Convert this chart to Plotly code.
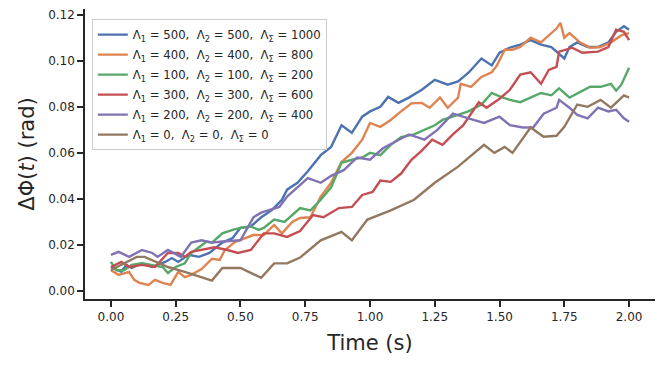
import plotly.graph_objects as go

# ---- data (time in s, phase in rad) ----
t_500 = [0.00, 0.04, 0.06, 0.08, 0.12, 0.16, 0.21, 0.235, 0.26, 0.30, 0.34, 0.38, 0.43, 0.47, 0.50, 0.54, 0.58, 0.62,
         0.66, 0.68, 0.72, 0.76, 0.81, 0.85, 0.89, 0.93, 0.97, 1.00, 1.04, 1.07, 1.11, 1.15, 1.20, 1.25, 1.30, 1.34,
         1.38, 1.43, 1.47, 1.50, 1.54, 1.58, 1.62, 1.66, 1.70, 1.72, 1.75, 1.77, 1.80, 1.84, 1.88, 1.92, 1.95, 1.98, 2.00]
v_500 = [0.0104, 0.0083, 0.0113, 0.0100, 0.0120, 0.0104, 0.0126, 0.0143, 0.0126, 0.0157, 0.0148, 0.0165, 0.0210, 0.0230,
         0.0274, 0.0280, 0.0320, 0.0350, 0.0396, 0.0440, 0.0470, 0.0520, 0.0590, 0.0626, 0.0720, 0.0687, 0.0757, 0.0780,
         0.0800, 0.0843, 0.0817, 0.0840, 0.0874, 0.0917, 0.0896, 0.0910, 0.0948, 0.1010, 0.0980, 0.1035, 0.1057, 0.1070,
         0.1090, 0.1070, 0.1060, 0.1040, 0.1010, 0.1060, 0.1080, 0.1060, 0.1060, 0.1080, 0.1126, 0.1150, 0.1135]

t_400 = [0.00, 0.03, 0.07, 0.09, 0.11, 0.145, 0.17, 0.20, 0.23, 0.26, 0.285, 0.31, 0.35, 0.39, 0.42, 0.44, 0.48, 0.52,
         0.55, 0.59, 0.63, 0.66, 0.70, 0.73, 0.77, 0.81, 0.85, 0.89, 0.93, 0.97, 1.00, 1.04, 1.08, 1.12, 1.16, 1.20,
         1.23, 1.27, 1.30, 1.34, 1.35, 1.39, 1.43, 1.47, 1.49, 1.52, 1.55, 1.58, 1.62, 1.66, 1.70, 1.72, 1.735, 1.75,
         1.77, 1.81, 1.85, 1.89, 1.93, 1.97, 2.00]
v_400 = [0.0090, 0.0070, 0.0083, 0.0048, 0.0035, 0.0026, 0.0048, 0.0035, 0.0026, 0.0083, 0.0060, 0.0070, 0.0095, 0.0140,
         0.0135, 0.0178, 0.0213, 0.0230, 0.0243, 0.0243, 0.0287, 0.0250, 0.0300, 0.0317, 0.0320, 0.0410, 0.0470, 0.0560,
         0.0600, 0.0657, 0.0730, 0.0713, 0.0743, 0.0780, 0.0815, 0.0817, 0.0796, 0.0840, 0.0796, 0.0840, 0.0900, 0.0887,
         0.0930, 0.0950, 0.0980, 0.1048, 0.1048, 0.1060, 0.1100, 0.1080, 0.1120, 0.1140, 0.1165, 0.1100, 0.1120, 0.1080,
         0.1057, 0.1060, 0.1080, 0.1110, 0.1120]

t_100 = [0.00, 0.02, 0.05, 0.08, 0.12, 0.16, 0.20, 0.22, 0.25, 0.285, 0.31, 0.34, 0.37, 0.39, 0.43, 0.47, 0.50, 0.54,
         0.57, 0.59, 0.63, 0.67, 0.71, 0.73, 0.77, 0.81, 0.85, 0.89, 0.93, 0.97, 1.00, 1.04, 1.08, 1.12, 1.17, 1.21,
         1.25, 1.28, 1.32, 1.38, 1.43, 1.47, 1.50, 1.54, 1.58, 1.62, 1.66, 1.70, 1.73, 1.77, 1.81, 1.85, 1.89, 1.93,
         1.95, 1.97, 2.00]
v_100 = [0.0126, 0.0090, 0.0090, 0.0113, 0.0120, 0.0113, 0.0104, 0.0078, 0.0104, 0.0120, 0.0165, 0.0190, 0.0215, 0.0210,
         0.0250, 0.0265, 0.0274, 0.0280, 0.0265, 0.0274, 0.0310, 0.0300, 0.0340, 0.0360, 0.0350, 0.0396, 0.0450, 0.0557,
         0.0570, 0.0580, 0.0600, 0.0590, 0.0635, 0.0668, 0.0680, 0.0700, 0.0720, 0.0743, 0.0757, 0.0780, 0.0810, 0.0860,
         0.0845, 0.0830, 0.0820, 0.0840, 0.0860, 0.0850, 0.0880, 0.0840, 0.0865, 0.0887, 0.0887, 0.0900, 0.0870, 0.0896,
         0.0970]

t_300 = [0.00, 0.04, 0.07, 0.12, 0.17, 0.20, 0.22, 0.26, 0.285, 0.31, 0.35, 0.40, 0.45, 0.49, 0.54, 0.59, 0.63, 0.68,
         0.73, 0.78, 0.82, 0.88, 0.93, 0.97, 1.01, 1.04, 1.08, 1.12, 1.16, 1.20, 1.24, 1.28, 1.32, 1.36, 1.42, 1.45,
         1.50, 1.54, 1.58, 1.62, 1.66, 1.69, 1.72, 1.73, 1.76, 1.78, 1.82, 1.88, 1.92, 1.95, 1.98, 2.00]
v_300 = [0.0104, 0.0126, 0.0104, 0.0113, 0.0104, 0.0143, 0.0165, 0.0165, 0.0148, 0.0170, 0.0178, 0.0190, 0.0178, 0.0165,
         0.0178, 0.0250, 0.0250, 0.0235, 0.0260, 0.0330, 0.0320, 0.0360, 0.0365, 0.0417, 0.0430, 0.0480, 0.0474, 0.0510,
         0.0570, 0.0610, 0.0657, 0.0635, 0.0680, 0.0720, 0.0820, 0.0796, 0.0835, 0.0874, 0.0940, 0.0950, 0.0900, 0.0960,
         0.0974, 0.1040, 0.1050, 0.1057, 0.1035, 0.1040, 0.1060, 0.1135, 0.1126, 0.1090]

t_200 = [0.00, 0.03, 0.07, 0.12, 0.16, 0.18, 0.22, 0.27, 0.31, 0.35, 0.39, 0.43, 0.50, 0.55, 0.58, 0.65, 0.68, 0.70,
         0.76, 0.81, 0.85, 0.90, 0.95, 1.00, 1.05, 1.15, 1.21, 1.26, 1.32, 1.38, 1.44, 1.50, 1.54, 1.59, 1.63, 1.67,
         1.72, 1.73, 1.77, 1.80, 1.84, 1.88, 1.92, 1.95, 1.98, 2.00]
v_200 = [0.0157, 0.0170, 0.0148, 0.0178, 0.0165, 0.0148, 0.0178, 0.0148, 0.0210, 0.0220, 0.0210, 0.0215, 0.0220, 0.0320,
         0.0340, 0.0365, 0.0410, 0.0430, 0.0490, 0.0470, 0.0500, 0.0526, 0.0580, 0.0570, 0.0620, 0.0680, 0.0657, 0.0700,
         0.0770, 0.0750, 0.0730, 0.0757, 0.0720, 0.0710, 0.0710, 0.0770, 0.0796, 0.0830, 0.0796, 0.0765, 0.0750, 0.0796,
         0.0780, 0.0787, 0.0750, 0.0735]

t_0 = [0.00, 0.05, 0.10, 0.13, 0.22, 0.285, 0.39, 0.43, 0.50, 0.58, 0.63, 0.68, 0.73, 0.81, 0.89, 0.93, 0.99, 1.08,
       1.17, 1.25, 1.34, 1.44, 1.48, 1.52, 1.55, 1.62, 1.67, 1.72, 1.75, 1.80, 1.84, 1.89, 1.93, 1.98, 2.00]
v_0 = [0.0091, 0.0120, 0.0148, 0.0148, 0.0104, 0.0083, 0.0045, 0.0100, 0.0100, 0.0057, 0.0120, 0.0120, 0.0145, 0.0220,
       0.0257, 0.0220, 0.0310, 0.0350, 0.0396, 0.0470, 0.0540, 0.0635, 0.0600, 0.0626, 0.0600, 0.0710, 0.0670, 0.0674,
       0.0713, 0.0810, 0.0800, 0.0830, 0.0796, 0.0850, 0.0840]

labels = [
    "Λ<sub>1</sub> = 500,  Λ<sub>2</sub> = 500,  Λ<sub>Σ</sub> = 1000",
    "Λ<sub>1</sub> = 400,  Λ<sub>2</sub> = 400,  Λ<sub>Σ</sub> = 800",
    "Λ<sub>1</sub> = 100,  Λ<sub>2</sub> = 100,  Λ<sub>Σ</sub> = 200",
    "Λ<sub>1</sub> = 300,  Λ<sub>2</sub> = 300,  Λ<sub>Σ</sub> = 600",
    "Λ<sub>1</sub> = 200,  Λ<sub>2</sub> = 200,  Λ<sub>Σ</sub> = 400",
    "Λ<sub>1</sub> = 0,  Λ<sub>2</sub> = 0,  Λ<sub>Σ</sub> = 0",
]
series = [(t_500, v_500), (t_400, v_400), (t_100, v_100), (t_300, v_300), (t_200, v_200), (t_0, v_0)]
colors = ["#4C72B0", "#DD8452", "#55A868", "#C44E52", "#8172B3", "#937860"]

x_ticks = [0.0, 0.25, 0.5, 0.75, 1.0, 1.25, 1.5, 1.75, 2.0]
y_ticks = [0.0, 0.02, 0.04, 0.06, 0.08, 0.10, 0.12]

fig = go.Figure()
for i, ((t, v), lab, c) in enumerate(zip(series, labels, colors)):
    fig.add_trace(go.Scatter(x=t, y=v, mode="lines", name=lab, legendgroup=f"g{i}",
                             line=dict(color=c, width=2.4)))

axis_common = dict(showgrid=False, zeroline=False, showline=True, linecolor="#262626", linewidth=1.5,
                   ticks="outside", ticklen=6, tickwidth=1.5, tickcolor="#262626", automargin=False,
                   tickfont=dict(family="DejaVu Sans", size=12, color="#262626"), mirror=False)

fig.update_layout(
    width=665, height=366,
    margin=dict(l=85, r=10, t=9, b=67),
    paper_bgcolor="white", plot_bgcolor="white",
    font=dict(family="DejaVu Sans", color="#262626"),
    xaxis=dict(range=[-0.1, 2.1], tickvals=x_ticks, tickformat=".2f",
               title=dict(text="Time (s)", font=dict(size=21, family="DejaVu Sans", color="#262626"), standoff=12),
               **axis_common),
    yaxis=dict(range=[-0.0035, 0.1225], tickvals=y_ticks, tickformat=".2f",
               title=dict(text="ΔΦ(<i>t</i>) (rad)", font=dict(size=21, family="DejaVu Sans", color="#262626"), standoff=8),
               **axis_common),
    legend=dict(x=0.012, y=0.965, xanchor="left", yanchor="top", tracegroupgap=1,
                bgcolor="rgba(255,255,255,0.85)", bordercolor="#cccccc", borderwidth=1,
                font=dict(family="DejaVu Sans", size=11.7, color="#262626"), itemwidth=30),
    showlegend=True,
)

fig.write_html("out.html", config={"displayModeBar": False},
               post_script="document.body.style.margin='0';")
